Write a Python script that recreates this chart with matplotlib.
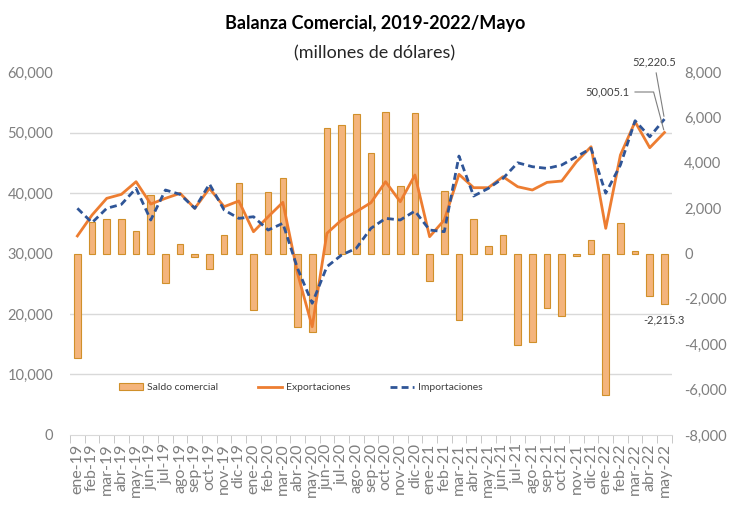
import numpy as np
import matplotlib.pyplot as plt

plt.rcParams['font.family'] = ['Lato', 'DejaVu Sans']

meses = ['ene-19', 'feb-19', 'mar-19', 'abr-19', 'may-19', 'jun-19', 'jul-19', 'ago-19', 'sep-19',
         'oct-19', 'nov-19', 'dic-19', 'ene-20', 'feb-20', 'mar-20', 'abr-20', 'may-20', 'jun-20',
         'jul-20', 'ago-20', 'sep-20', 'oct-20', 'nov-20', 'dic-20', 'ene-21', 'feb-21', 'mar-21',
         'abr-21', 'may-21', 'jun-21', 'jul-21', 'ago-21', 'sep-21', 'oct-21', 'nov-21', 'dic-21',
         'ene-22', 'feb-22', 'mar-22', 'abr-22', 'may-22']

# saldo comercial (right axis)
saldo = [-4600, 1400, 1500, 1500, 1000, 2600, -1300, 430, -160, -700, 820, 3100,
         -2470, 2730, 3320, -3240, -3470, 5550, 5670, 6150, 4440, 6250, 2960, 6200,
         -1230, 2740, -2950, 1500, 350, 820, -4050, -3900, -2420, -2760, -120, 600,
         -6250, 1340, 100, -1860, -2215.3]

# exportaciones / importaciones (left axis)
export = [32900, 36360, 39120, 39780, 41870, 38180, 39120, 39950, 37470, 40770, 37740, 38680,
          33600, 36080, 38460, 26730, 17900, 33340, 35540, 36910, 38400, 41870, 38560, 42980,
          32780, 35540, 43090, 40880, 40880, 42700, 41040, 40500, 41760, 41980, 45170, 47650,
          34160, 46280, 51780, 47490, 50005.1]
imports = [37470, 35100, 37470, 38130, 40770, 35540, 40500, 39780, 37470, 41490, 37190, 35810,
           36080, 33880, 34990, 27550, 21770, 27820, 29750, 30860, 34160, 35810, 35540, 37020,
           33880, 33610, 46110, 39500, 40770, 42420, 45000, 44350, 44070, 44630, 46000, 47380,
           39970, 44630, 51950, 49300, 52220.5]

x = np.arange(len(meses))
gray = '#7f7f7f'

fig = plt.figure(figsize=(7.31, 5.22), dpi=100)
ax = fig.add_axes([0.0958, 0.1667, 0.8232, 0.6953])  # bars, right ticks
ax2 = ax.twinx()  # lines, left ticks

ax.bar(x, saldo, width=0.45, color='#F4B47C', edgecolor='#D0902A', linewidth=0.8,
       label='Saldo comercial', zorder=3)
ax.set_ylim(-8000, 8000)
ax.set_xlim(-0.5, len(meses) - 0.5)
ax.yaxis.tick_right()
ax.set_yticks(np.arange(-8000, 8001, 2000))
ax.set_yticklabels([f'{v:,}' for v in range(-8000, 8001, 2000)])
ax.set_yticks(np.linspace(-8000, 8000, 7), minor=True)
ax.grid(axis='y', which='minor', color='#d9d9d9', linewidth=1, zorder=0)
ax.tick_params(axis='y', which='both', length=0, labelsize=10.5, labelcolor=gray, pad=9)

ax2.plot(x, export, color='#ED7D31', linewidth=2, label='Exportaciones')
ax2.plot(x, imports, color='#2F5597', linewidth=2, linestyle=(0, (2.5, 1.5)), label='Importaciones')
ax2.set_ylim(0, 60000)
ax2.yaxis.tick_left()
ax2.set_yticks(np.arange(0, 60001, 10000))
ax2.set_yticklabels([f'{v:,}' for v in range(0, 60001, 10000)])
ax2.tick_params(axis='y', length=0, labelsize=10.5, labelcolor=gray, pad=12)

for a in (ax, ax2):
    for s in a.spines.values():
        s.set_visible(False)
ax.spines['bottom'].set_visible(True)
ax.spines['bottom'].set_color('#d9d9d9')

ax.set_xticks(x)
ax.set_xticklabels(meses, rotation=90, fontsize=11.5, color=gray)
ax.set_xticks(np.arange(-0.5, len(meses), 1), minor=True)
ax.tick_params(axis='x', which='major', length=0, pad=6)
ax.tick_params(axis='x', which='minor', length=6, color='#bfbfbf')

# annotations
ax2.annotate('52,220.5', xy=(x[-1], imports[-1]), xytext=(x[-1] - 0.7, 61700),
             fontsize=8, color='#404040', ha='center', va='center',
             arrowprops=dict(arrowstyle='-', color='#7f7f7f', lw=0.8))
ax2.annotate('50,005.1', xy=(x[-1], export[-1]), xytext=(x[-1] - 3.9, 56700),
             fontsize=8, color='#404040', ha='center', va='center',
             arrowprops=dict(arrowstyle='-', color='#7f7f7f', lw=0.8,
                             connectionstyle='angle,angleA=0,angleB=105,rad=0'))
ax.text(x[-1], saldo[-1] - 450, '-2,215.3', fontsize=8, color='#404040', ha='center', va='top')

h1, l1 = ax.get_legend_handles_labels()
h2, l2 = ax2.get_legend_handles_labels()
ax2.legend(h1 + h2, l1 + l2, loc='center', bbox_to_anchor=(0.384, 0.13), ncol=3,
           frameon=False, fontsize=7.5, columnspacing=3.8, handlelength=2.3,
           handletextpad=0.4, labelcolor='#404040')

fig.text(0.513, 0.955, 'Balanza Comercial, 2019-2022/Mayo', ha='center', va='center',
         fontsize=13, fontweight='bold', color='black')
fig.text(0.513, 0.898, '(millones de dólares)', ha='center', va='center',
         fontsize=13, color='#262626')

fig.savefig('out.png', dpi=100)
